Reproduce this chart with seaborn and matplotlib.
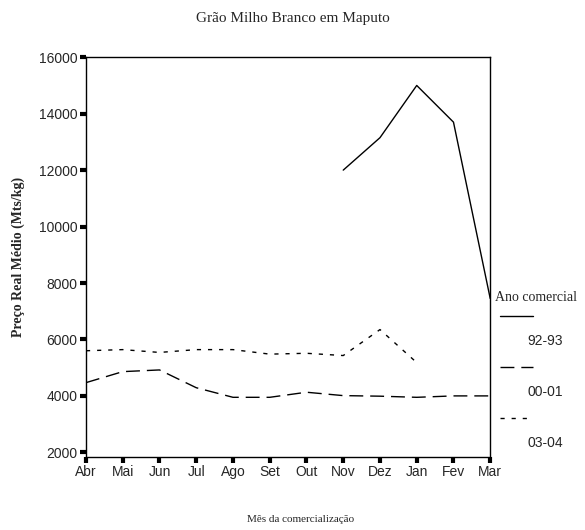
import numpy as np
import pandas as pd
import matplotlib.pyplot as plt
from matplotlib.lines import Line2D
import seaborn as sb

meses = ["Abr", "Mai", "Jun", "Jul", "Ago", "Set", "Out", "Nov", "Dez", "Jan", "Fev", "Mar"]
ano_92_93 = [np.nan, np.nan, np.nan, np.nan, np.nan, np.nan, np.nan, 12000, 13150, 15000, 13700, 7450]
ano_00_01 = [4470, 4860, 4920, 4290, 3950, 3950, 4130, 4010, 3990, 3950, 4000, 4000]
ano_03_04 = [5600, 5640, 5540, 5640, 5640, 5480, 5510, 5430, 6350, 5180, np.nan, np.nan]
anos = ["92-93", "00-01", "03-04"]

df = pd.DataFrame({"Mês": meses, "92-93": ano_92_93, "00-01": ano_00_01, "03-04": ano_03_04})
df = df.melt(id_vars="Mês", var_name="Ano", value_name="Preço").dropna()
df["x"] = df["Mês"].map({m: i for i, m in enumerate(meses)})

sb.set_style("white")
serif = ["Liberation Serif", "DejaVu Serif"]
narrow = ["Liberation Sans Narrow", "Liberation Sans", "DejaVu Sans"]

estilos = {"92-93": "", "00-01": (10, 5), "03-04": (3, 5)}

fig = plt.figure(figsize=(5.85, 5.3), dpi=100)
ax = fig.add_axes([0.147, 0.138, 0.691, 0.754])

sb.lineplot(data=df, x="x", y="Preço", style="Ano", dashes=estilos, color="black",
            linewidth=1, sort=False, legend=False, ax=ax)

ax.set_xlim(0, len(meses) - 1)
ax.set_ylim(1840, 16000)
ax.set_xticks(range(len(meses)))
ax.set_xticklabels(meses, family=narrow, fontsize=10)
ax.set_yticks(range(2000, 16001, 2000))
ax.set_yticklabels([str(v) for v in range(2000, 16001, 2000)], family=narrow, fontsize=10)
ax.tick_params(direction="out", length=4, width=3, color="black", pad=2, bottom=True, left=True)
for s in ax.spines.values():
    s.set_color("black")
    s.set_linewidth(1)

ax.set_xlabel("")
fig.text(0.513, 0.019, "Mês da comercialização", ha="center", va="center", family=serif, fontsize=8)
ax.set_ylabel("Preço Real Médio (Mts/kg)", family=serif, fontsize=10, fontweight="semibold", labelpad=10)
fig.text(0.5, 0.965, "Grão Milho Branco em Maputo", ha="center", va="center", family=serif, fontsize=11)

# legenda manual à direita do gráfico
fig.text(0.846, 0.438, "Ano comercial", ha="left", va="center", family=serif, fontsize=10)
y_linha = [0.404, 0.308, 0.212]
for ano, y in zip(anos, y_linha):
    fig.add_artist(Line2D([0.855, 0.911], [y, y], color="black", linewidth=1,
                          dashes=estilos[ano] if estilos[ano] else (None, None)))
    fig.text(0.932, y - 0.047, ano, ha="center", va="center", family=narrow, fontsize=10)

plt.savefig("out.png", dpi=100)
